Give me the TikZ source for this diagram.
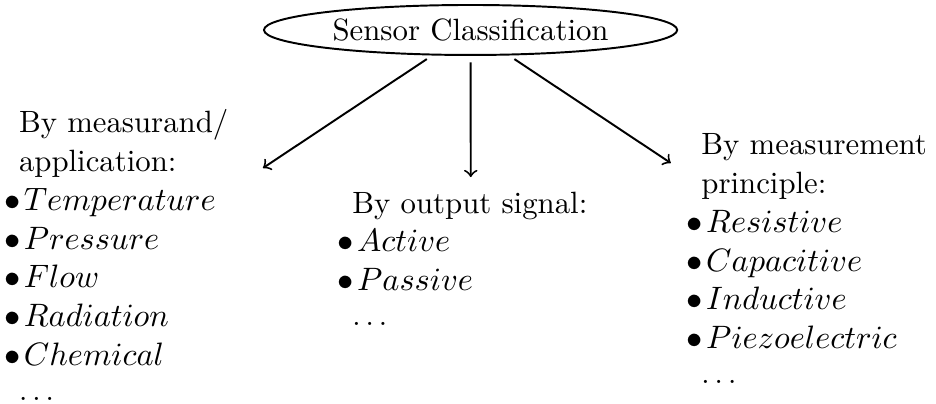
\documentclass[tikz,border=0pt]{standalone}
\usetikzlibrary{shapes.geometric}
\newcommand{\sensoritem}[1]{{\fontsize{10}{12}\selectfont$\bullet\mkern2mu #1$}}
\begin{document}
\begin{tikzpicture}[font=\fontsize{9.5}{12}\selectfont, semithick]
    \useasboundingbox (0,0) rectangle (10.15cm,-4.38cm);
    \node[ellipse, draw, inner xsep=2.5pt, inner ysep=2pt] (root) at (5.103cm,-0.325cm) {Sensor Classification};
    \coordinate (toMeasurand) at (2.852cm,-1.822cm);
    \coordinate (toOutput) at (5.105cm,-1.920cm);
    \coordinate (toPrinciple) at (7.274cm,-1.768cm);
    \draw[->, shorten <=2pt] (root) -- (toMeasurand);
    \draw[->, shorten <=2pt] (root) -- (toOutput);
    \draw[->, shorten <=2pt] (root) -- (toPrinciple);
    \node[anchor=base west, align=left, inner sep=0] (measurand) at (0.033cm,-4.345cm)
        {\hphantom{$\bullet$}By measurand/\\ \hphantom{$\bullet$}application:\\
         \sensoritem{Temperature}\\ \sensoritem{Pressure}\\ \sensoritem{Flow}\\
         \sensoritem{Radiation}\\ \sensoritem{Chemical}\\[-1.2pt] \hphantom{$\bullet$}$\dots$};
    \node[anchor=base west, align=left, inner sep=0] (output) at (3.648cm,-3.533cm)
        {\hphantom{$\bullet$}By output signal:\\ \sensoritem{Active}\\ \sensoritem{Passive}\\[-1.2pt]
         \hphantom{$\bullet$}$\dots$};
    \node[anchor=base west, align=left, inner sep=0] (principle) at (7.433cm,-4.162cm)
        {\hphantom{$\bullet$}By measurement\\ \hphantom{$\bullet$}principle:\\
         \sensoritem{Resistive}\\ \sensoritem{Capacitive}\\ \sensoritem{Inductive}\\
         \sensoritem{Piezoelectric}\\[-1.2pt] \hphantom{$\bullet$}$\dots$};
\end{tikzpicture}
\end{document}
